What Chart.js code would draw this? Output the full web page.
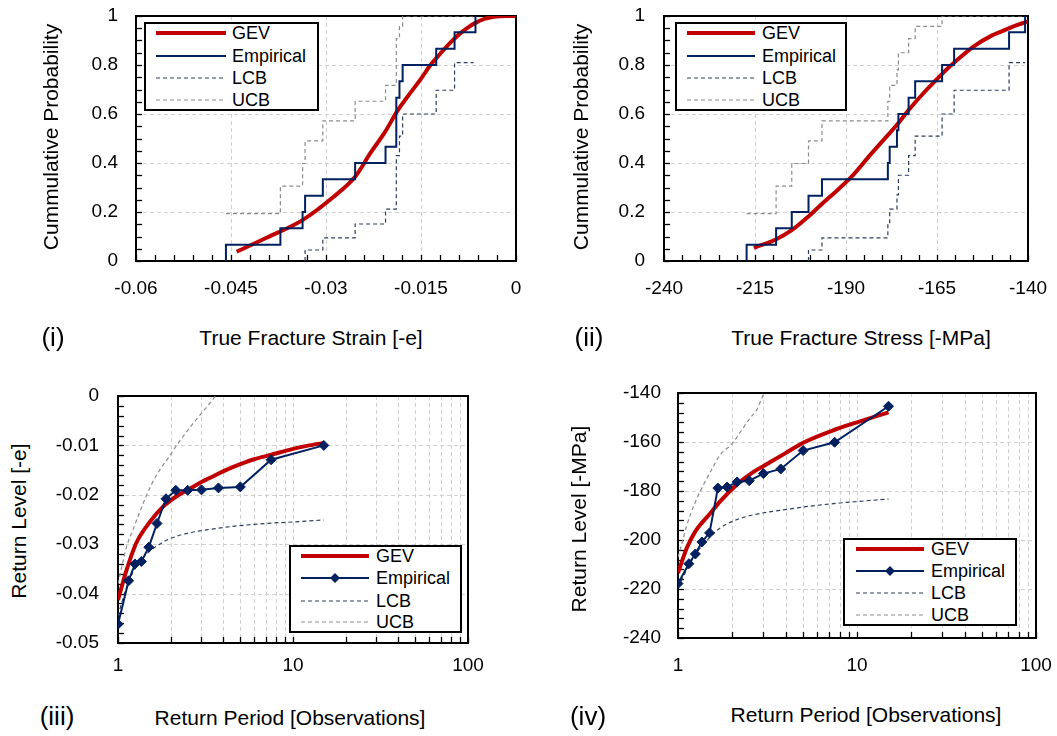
<!DOCTYPE html>
<html><head><meta charset="utf-8">
<script src="https://cdn.jsdelivr.net/npm/chart.js@4.4.0/dist/chart.umd.min.js"></script>
<style>
html,body{margin:0;padding:0;background:#fff;}
body{width:1057px;height:736px;position:relative;overflow:hidden;font-family:"Liberation Sans",Arial,sans-serif;color:#000;}
canvas{position:absolute;}
.t{position:absolute;white-space:nowrap;font-size:21px;transform:translate(-50%,-50%);line-height:1;}
.rot{transform:translate(-50%,-50%) rotate(-90deg);}
.lbl{font-size:26px;}
.lg{position:absolute;border:2px solid #000;background:#fff;box-sizing:border-box;}
.lg span{position:absolute;font-size:18px;line-height:1;transform:translateY(-50%);white-space:nowrap;}
.lg svg{position:absolute;overflow:visible;}
</style>
</head><body>
<script>
// ---------------- DATA ----------------
// (i) True fracture strain CDF
const strainEmpX = [-0.0458,-0.0458,-0.0372,-0.0337,-0.0333,-0.0305,-0.0254,-0.0206,-0.0189,-0.0189,-0.0189,-0.0184,-0.0179,-0.0126,-0.0097,-0.0064];
const strainEmpF = [0,0.0667,0.1333,0.2,0.2667,0.3333,0.4,0.4667,0.5333,0.6,0.6667,0.7333,0.8,0.8667,0.9333,1];
const strainGevX = [-0.0441,-0.0393,-0.0337,-0.0288,-0.0254,-0.0230,-0.0206,-0.0188,-0.0170,-0.0151,-0.0135,-0.0120,-0.0104,-0.0090,-0.0075,-0.0064,-0.0050,-0.0035,-0.0015,0];
const strainGevF = [0.038,0.096,0.167,0.262,0.344,0.44,0.53,0.61,0.675,0.74,0.80,0.845,0.89,0.925,0.955,0.972,0.988,0.997,1.0,1.0];
const strainLcbX = [-0.0333,-0.0333,-0.0305,-0.0254,-0.0206,-0.0189,-0.0184,-0.0179,-0.0126,-0.0097,-0.0067];
const strainLcbF = [0,0.045,0.094,0.151,0.212,0.43,0.51,0.6,0.697,0.81,0.81];
const strainUcbX = [-0.0458,-0.0372,-0.0337,-0.0333,-0.0305,-0.0254,-0.0206,-0.0189,-0.0184,-0.0179,-0.0067];
const strainUcbF = [0.193,0.306,0.398,0.49,0.572,0.652,0.717,0.908,0.958,1,1];

// (ii) True fracture stress CDF
const stressEmpX = [-217.3,-217.3,-209.2,-204.9,-200.3,-196.6,-178.5,-178.0,-176.0,-175.6,-172.8,-171.0,-163.6,-160.3,-145.2,-140.8];
const stressEmpF = [0,0.0667,0.1333,0.2,0.2667,0.3333,0.4,0.4667,0.5333,0.6,0.6667,0.7333,0.8,0.8667,0.9333,1];
const stressGevX = [-215.3,-209.3,-204.9,-200.4,-196.7,-194.4,-188.4,-183.4,-178.5,-176.0,-172.8,-167.8,-165.5,-163.5,-161.8,-160.1,-155.0,-150.0,-147.6,-144.0,-140.0];
const stressGevF = [0.054,0.088,0.126,0.181,0.232,0.262,0.345,0.432,0.514,0.556,0.616,0.70,0.735,0.765,0.79,0.812,0.875,0.92,0.935,0.958,0.978];
const stressLcbX = [-200.3,-200.3,-196.6,-178.5,-178.0,-176.0,-175.6,-172.8,-171.0,-163.6,-160.3,-145.2,-140.8];
const stressLcbF = [0,0.045,0.094,0.151,0.212,0.27,0.35,0.43,0.51,0.6,0.697,0.81,0.81];
const stressUcbX = [-217.3,-209.2,-204.9,-200.3,-196.6,-178.5,-178.0,-176.0,-175.6,-172.8,-171.0,-163.6,-140.8];
const stressUcbF = [0.193,0.306,0.398,0.49,0.572,0.652,0.717,0.78,0.85,0.908,0.958,1,1];

// (iii) Return level, strain
const empPeriod = [1,1.15,1.25,1.36,1.5,1.67,1.88,2.14,2.5,3,3.75,5,7.5,15];
const strainRL = [-0.0462,-0.0374,-0.0340,-0.0335,-0.0306,-0.0258,-0.0208,-0.0191,-0.0191,-0.0190,-0.0186,-0.0184,-0.0129,-0.0100];
const strainGevT = [1,1.12,1.27,1.52,1.81,2.16,2.68,3.0,3.34,3.71,4.25,5,6,7.5,10,12,15];
const strainGevRL = [-0.0413,-0.0352,-0.0298,-0.0255,-0.0224,-0.0203,-0.0184,-0.0174,-0.0166,-0.0158,-0.0148,-0.0138,-0.0128,-0.0119,-0.0107,-0.0101,-0.0095];
const strainLcbT = [1,1.1,1.22,1.39,1.52,1.73,1.89,2.16,2.35,2.93,3.34,4.5,7,10,15];
const strainLcbRL = [-0.0445,-0.0395,-0.0356,-0.0328,-0.0314,-0.0300,-0.0292,-0.0284,-0.0280,-0.0273,-0.0270,-0.0264,-0.0258,-0.0255,-0.0251];
const strainUcbT = [1,1.06,1.12,1.22,1.39,1.55,1.73,1.95,2.16,2.4,2.68,3.0,3.34,3.7];
const strainUcbRL = [-0.038,-0.034,-0.0305,-0.027,-0.0218,-0.018,-0.015,-0.0124,-0.010,-0.0078,-0.0056,-0.0035,-0.0015,0.0005];

// (iv) Return level, stress
const stressRL = [-217.8,-209.7,-205.7,-200.8,-197.1,-178.8,-178.4,-176.3,-175.8,-172.9,-171.0,-163.5,-160.1,-145.4];
const stressGevT = [1,1.12,1.25,1.52,1.72,2.13,2.64,3.28,4.15,5,7.5,10,15];
const stressGevRL = [-213.5,-203.3,-196.5,-189,-184.2,-177.4,-172.2,-168.2,-163.8,-160.3,-155,-152,-147.9];
const stressLcbT = [1,1.12,1.25,1.39,1.72,2.13,2.64,3.4,4.24,5.3,8,10,15];
const stressLcbRL = [-219.5,-212.1,-206,-201.6,-195.1,-191.7,-189.7,-188.3,-187.3,-186.3,-184.9,-184.3,-183.3];
const stressUcbT = [1,1.06,1.12,1.25,1.39,1.55,1.72,2.0,2.25,2.53,2.75,3.0,3.1];
const stressUcbRL = [-207,-200.5,-194,-184.5,-177.4,-171,-165.2,-160.8,-155.5,-150.2,-146.9,-140.7,-139];

// tick labels
const strainXTicks = [-0.06,-0.045,-0.03,-0.015,0];
const strainXLabels = ['-0.06','-0.045','-0.03','-0.015','0'];
const stressXTicks = [-240,-215,-190,-165,-140];
const stressXLabels = ['-240','-215','-190','-165','-140'];
const probTicks = [0,0.2,0.4,0.6,0.8,1];
const probLabels = ['0','0.2','0.4','0.6','0.8','1'];
const periodTicks = [1,2,3,4,5,6,7,8,9,10,20,30,40,50,60,70,80,90,100];
const periodLabels = ['1','','','','','','','','','10','','','','','','','','','100'];
const strainRLTicks = [-0.05,-0.04,-0.03,-0.02,-0.01,0];
const strainRLLabels = ['-0.05','-0.04','-0.03','-0.02','-0.01','0'];
const stressRLTicks = [-240,-220,-200,-180,-160,-140];
const stressRLLabels = ['-240','-220','-200','-180','-160','-140'];

// ---------------- STYLE ----------------
const FONT = "'Liberation Sans', Arial, sans-serif";
const RED = '#C00000', NAVY = '#002060', LCBC = '#2E3F5F', UCBC = '#8C8C8C', GRID = '#D0D0D0';

function range(a, b, step){ const out=[]; const n=Math.round((b-a)/step); for(let i=0;i<=n;i++) out.push(+(a+i*step).toFixed(6)); return out; }
function pts(xs, ys){ return xs.map((x,i)=>({x:x, y:ys[i]})); }

const framePlugin = {
  id: 'frame',
  beforeDatasetsDraw(chart, args, o) {
    const {ctx, chartArea:a, scales:{x, y}} = chart;
    ctx.save();
    ctx.lineWidth = 1; ctx.strokeStyle = GRID; ctx.setLineDash([4,3]);
    (o.xGrid||[]).forEach(v=>{ const p=Math.round(x.getPixelForValue(v))+0.5; ctx.beginPath(); ctx.moveTo(p,a.top); ctx.lineTo(p,a.bottom); ctx.stroke(); });
    (o.yGrid||[]).forEach(v=>{ const p=Math.round(y.getPixelForValue(v))+0.5; ctx.beginPath(); ctx.moveTo(a.left,p); ctx.lineTo(a.right,p); ctx.stroke(); });
    ctx.setLineDash([]);
    ctx.strokeStyle = '#000'; ctx.lineWidth = 1.3;
    const L = 6;
    (o.xMinor||[]).forEach(v=>{ const p=Math.round(x.getPixelForValue(v))+0.5; ctx.beginPath(); ctx.moveTo(p,a.bottom); ctx.lineTo(p,a.bottom-L); ctx.stroke(); });
    (o.yMinor||[]).forEach(v=>{ const p=Math.round(y.getPixelForValue(v))+0.5; ctx.beginPath(); ctx.moveTo(a.left,p); ctx.lineTo(a.left+L,p); ctx.stroke(); });
    ctx.lineWidth = 2;
    ctx.strokeRect(a.left, a.top, a.right-a.left, a.bottom-a.top);
    ctx.restore();
  }
};

function axis(type, min, max, values, labels, pad, fitFn) {
  return {
    type, min, max,
    afterBuildTicks: s => { s.ticks = values.map(v=>({value:v})); },
    afterFit: fitFn,
    grid: {display:false, drawTicks:false, tickLength:0}, border: {display:false},
    ticks: {
      autoSkip:false, maxRotation:0, minRotation:0, padding:pad, color:'#000',
      font:{family:FONT, size:19},
      callback: (v) => { const i = values.findIndex(t=>Math.abs(t-v)<1e-9); return i>=0 ? labels[i] : ''; }
    }
  };
}

// box = canvas rectangle (may extend beyond the page so that the label overflow
// reserved by Chart.js stays inside the layout padding); area = wanted plot rectangle
function makeChart(box, area, xCfg, yCfg, datasets, frame) {
  const c = document.createElement('canvas');
  c.width = box.w; c.height = box.h;
  c.style.left = box.l+'px'; c.style.top = box.t+'px';
  c.style.width = box.w+'px'; c.style.height = box.h+'px';
  document.body.appendChild(c);
  const yW = area.l - box.l, xH = (box.t+box.h) - area.b;
  return new Chart(c, {
    type: 'scatter',
    data: {datasets},
    options: {
      responsive:false, animation:false, devicePixelRatio:1,
      layout: {padding:{left:0, top:area.t-box.t, right:(box.l+box.w)-area.r, bottom:0}},
      scales: {
        x: axis(xCfg.type, xCfg.min, xCfg.max, xCfg.values, xCfg.labels, xCfg.pad, s=>{ s.height = xH; }),
        y: axis('linear', yCfg.min, yCfg.max, yCfg.values, yCfg.labels, yCfg.pad, s=>{ s.width = yW; })
      },
      plugins: {legend:{display:false}, tooltip:{enabled:false}, frame}
    },
    plugins: [framePlugin]
  });
}

// jump happens at the x of the next point: horizontal first, then vertical
function stepSet(xs, ys, color, width, dash) {
  return {data: pts(xs, ys), showLine:true, stepped:'before', borderColor:color, borderWidth:width, borderDash:dash||[], pointRadius:0, fill:false};
}
function curveSet(xs, ys, color, width, dash) {
  return {data: pts(xs, ys), showLine:true, cubicInterpolationMode:'monotone', borderColor:color, borderWidth:width, borderDash:dash||[], pointRadius:0, fill:false};
}

// (i)
makeChart({l:60,t:-20,w:486,h:320}, {l:136,r:516,t:16,b:261},
  {type:'linear', min:-0.06, max:0, values:strainXTicks, labels:strainXLabels, pad:16},
  {min:0, max:1, values:probTicks, labels:probLabels, pad:18},
  [ stepSet(strainEmpX, strainEmpF, NAVY, 2),
    curveSet(strainGevX, strainGevF, RED, 4),
    stepSet(strainLcbX, strainLcbF, LCBC, 1.2, [4,3]),
    stepSet(strainUcbX, strainUcbF, UCBC, 1.2, [4,3]) ],
  {xGrid:[-0.045,-0.03,-0.015], yGrid:[0.2,0.4,0.6,0.8], xMinor:range(-0.06,0,0.003), yMinor:range(0,1,0.05)});

// (ii)
makeChart({l:590,t:-20,w:490,h:320}, {l:664,r:1028,t:16,b:261},
  {type:'linear', min:-240, max:-140, values:stressXTicks, labels:stressXLabels, pad:16},
  {min:0, max:1, values:probTicks, labels:probLabels, pad:19},
  [ stepSet(stressEmpX, stressEmpF, NAVY, 2),
    curveSet(stressGevX, stressGevF, RED, 4),
    stepSet(stressLcbX, stressLcbF, LCBC, 1.2, [4,3]),
    stepSet(stressUcbX, stressUcbF, UCBC, 1.2, [4,3]) ],
  {xGrid:[-215,-190,-165], yGrid:[0.2,0.4,0.6,0.8], xMinor:range(-240,-140,5), yMinor:range(0,1,0.05)});

const logGrid = [2,3,4,5,6,7,8,9,10,20,30,40,50,60,70,80,90];
// (iii)
makeChart({l:40,t:360,w:470,h:320}, {l:118,r:468,t:396,b:643},
  {type:'logarithmic', min:1, max:100, values:periodTicks, labels:periodLabels, pad:11},
  {min:-0.05, max:0, values:strainRLTicks, labels:strainRLLabels, pad:19},
  [ {data: pts(empPeriod, strainRL), showLine:true, borderColor:NAVY, borderWidth:2, pointStyle:'rectRot', pointRadius:5, pointBackgroundColor:NAVY, pointBorderColor:NAVY, pointBorderWidth:1, fill:false},
    curveSet(strainGevT, strainGevRL, RED, 4),
    curveSet(strainLcbT, strainLcbRL, LCBC, 1.2, [4,3]),
    curveSet(strainUcbT, strainUcbRL, UCBC, 1.2, [4,3]) ],
  {xGrid:logGrid, yGrid:[-0.04,-0.03,-0.02,-0.01], xMinor:periodTicks, yMinor:range(-0.05,0,0.002)});

// (iv)
makeChart({l:600,t:357,w:480,h:323}, {l:678,r:1036,t:393,b:638},
  {type:'logarithmic', min:1, max:100, values:periodTicks, labels:periodLabels, pad:16},
  {min:-240, max:-140, values:stressRLTicks, labels:stressRLLabels, pad:17},
  [ {data: pts(empPeriod, stressRL), showLine:true, borderColor:NAVY, borderWidth:2, pointStyle:'rectRot', pointRadius:5, pointBackgroundColor:NAVY, pointBorderColor:NAVY, pointBorderWidth:1, fill:false},
    curveSet(stressGevT, stressGevRL, RED, 4),
    curveSet(stressLcbT, stressLcbRL, LCBC, 1.2, [4,3]),
    curveSet(stressUcbT, stressUcbRL, UCBC, 1.2, [4,3]) ],
  {xGrid:logGrid, yGrid:[-220,-200,-180,-160], xMinor:periodTicks, yMinor:range(-240,-140,4)});

// ---------------- TEXT ----------------
function text(str, x, y, cls) {
  const d = document.createElement('div'); d.className = 't ' + (cls||''); d.textContent = str;
  d.style.left = x+'px'; d.style.top = y+'px'; document.body.appendChild(d);
}
text('Cummulative Probability', 50, 137, 'rot');
text('Cummulative Probability', 580, 137, 'rot');
text('True Fracture Strain [-e]', 311, 337);
text('True Fracture Stress [-MPa]', 861, 337);
text('(i)', 53, 337, 'lbl');
text('(ii)', 589, 337, 'lbl');
text('Return Level [-e]', 18, 521, 'rot');
text('Return Level [-MPa]', 578, 519, 'rot');
text('Return Period [Observations]', 290, 717);
text('Return Period [Observations]', 866, 714);
text('(iii)', 57, 716, 'lbl');
text('(iv)', 588, 716, 'lbl');

// ---------------- LEGENDS ----------------
const legendNames = ['GEV','Empirical','LCB','UCB'];
function legend(L, T, W, H, sx, sw, tx, rows, diamond) {
  const d = document.createElement('div'); d.className = 'lg';
  d.style.left=L+'px'; d.style.top=T+'px'; d.style.width=W+'px'; d.style.height=H+'px';
  const styles = [
    {c:RED, w:4, dash:''}, {c:NAVY, w:2, dash:''}, {c:LCBC, w:1.2, dash:'4,3'}, {c:UCBC, w:1.2, dash:'4,3'}];
  legendNames.forEach((nm, i) => {
    const s = styles[i];
    const ns = 'http://www.w3.org/2000/svg';
    const svg = document.createElementNS(ns, 'svg');
    svg.setAttribute('width', sw); svg.setAttribute('height', 12);
    svg.style.left = (sx-2)+'px'; svg.style.top = (rows[i]-2-6)+'px';
    const ln = document.createElementNS(ns, 'line');
    ln.setAttribute('x1', 0); ln.setAttribute('x2', sw); ln.setAttribute('y1', 6); ln.setAttribute('y2', 6);
    ln.setAttribute('stroke', s.c); ln.setAttribute('stroke-width', s.w);
    if (s.dash) ln.setAttribute('stroke-dasharray', s.dash);
    svg.appendChild(ln);
    if (diamond && i === 1) {
      const p = document.createElementNS(ns, 'polygon');
      const cx = sw/2;
      p.setAttribute('points', `${cx},1 ${cx+5},6 ${cx},11 ${cx-5},6`);
      p.setAttribute('fill', NAVY);
      svg.appendChild(p);
    }
    d.appendChild(svg);
    const sp = document.createElement('span'); sp.textContent = nm;
    sp.style.left = (tx-2)+'px'; sp.style.top = (rows[i]-2)+'px';
    d.appendChild(sp);
  });
  document.body.appendChild(d);
}
legend(144, 22, 175, 89, 12, 70, 88, [11,34,56,78], false);
legend(675, 22, 172, 89, 12, 68, 87, [11,34,56,78], false);
legend(289, 545, 173, 88, 12, 68, 87, [11,33,56,77], true);
legend(843, 538, 174, 88, 13, 68, 88, [11,33,55,77], true);
</script>
</body></html>
